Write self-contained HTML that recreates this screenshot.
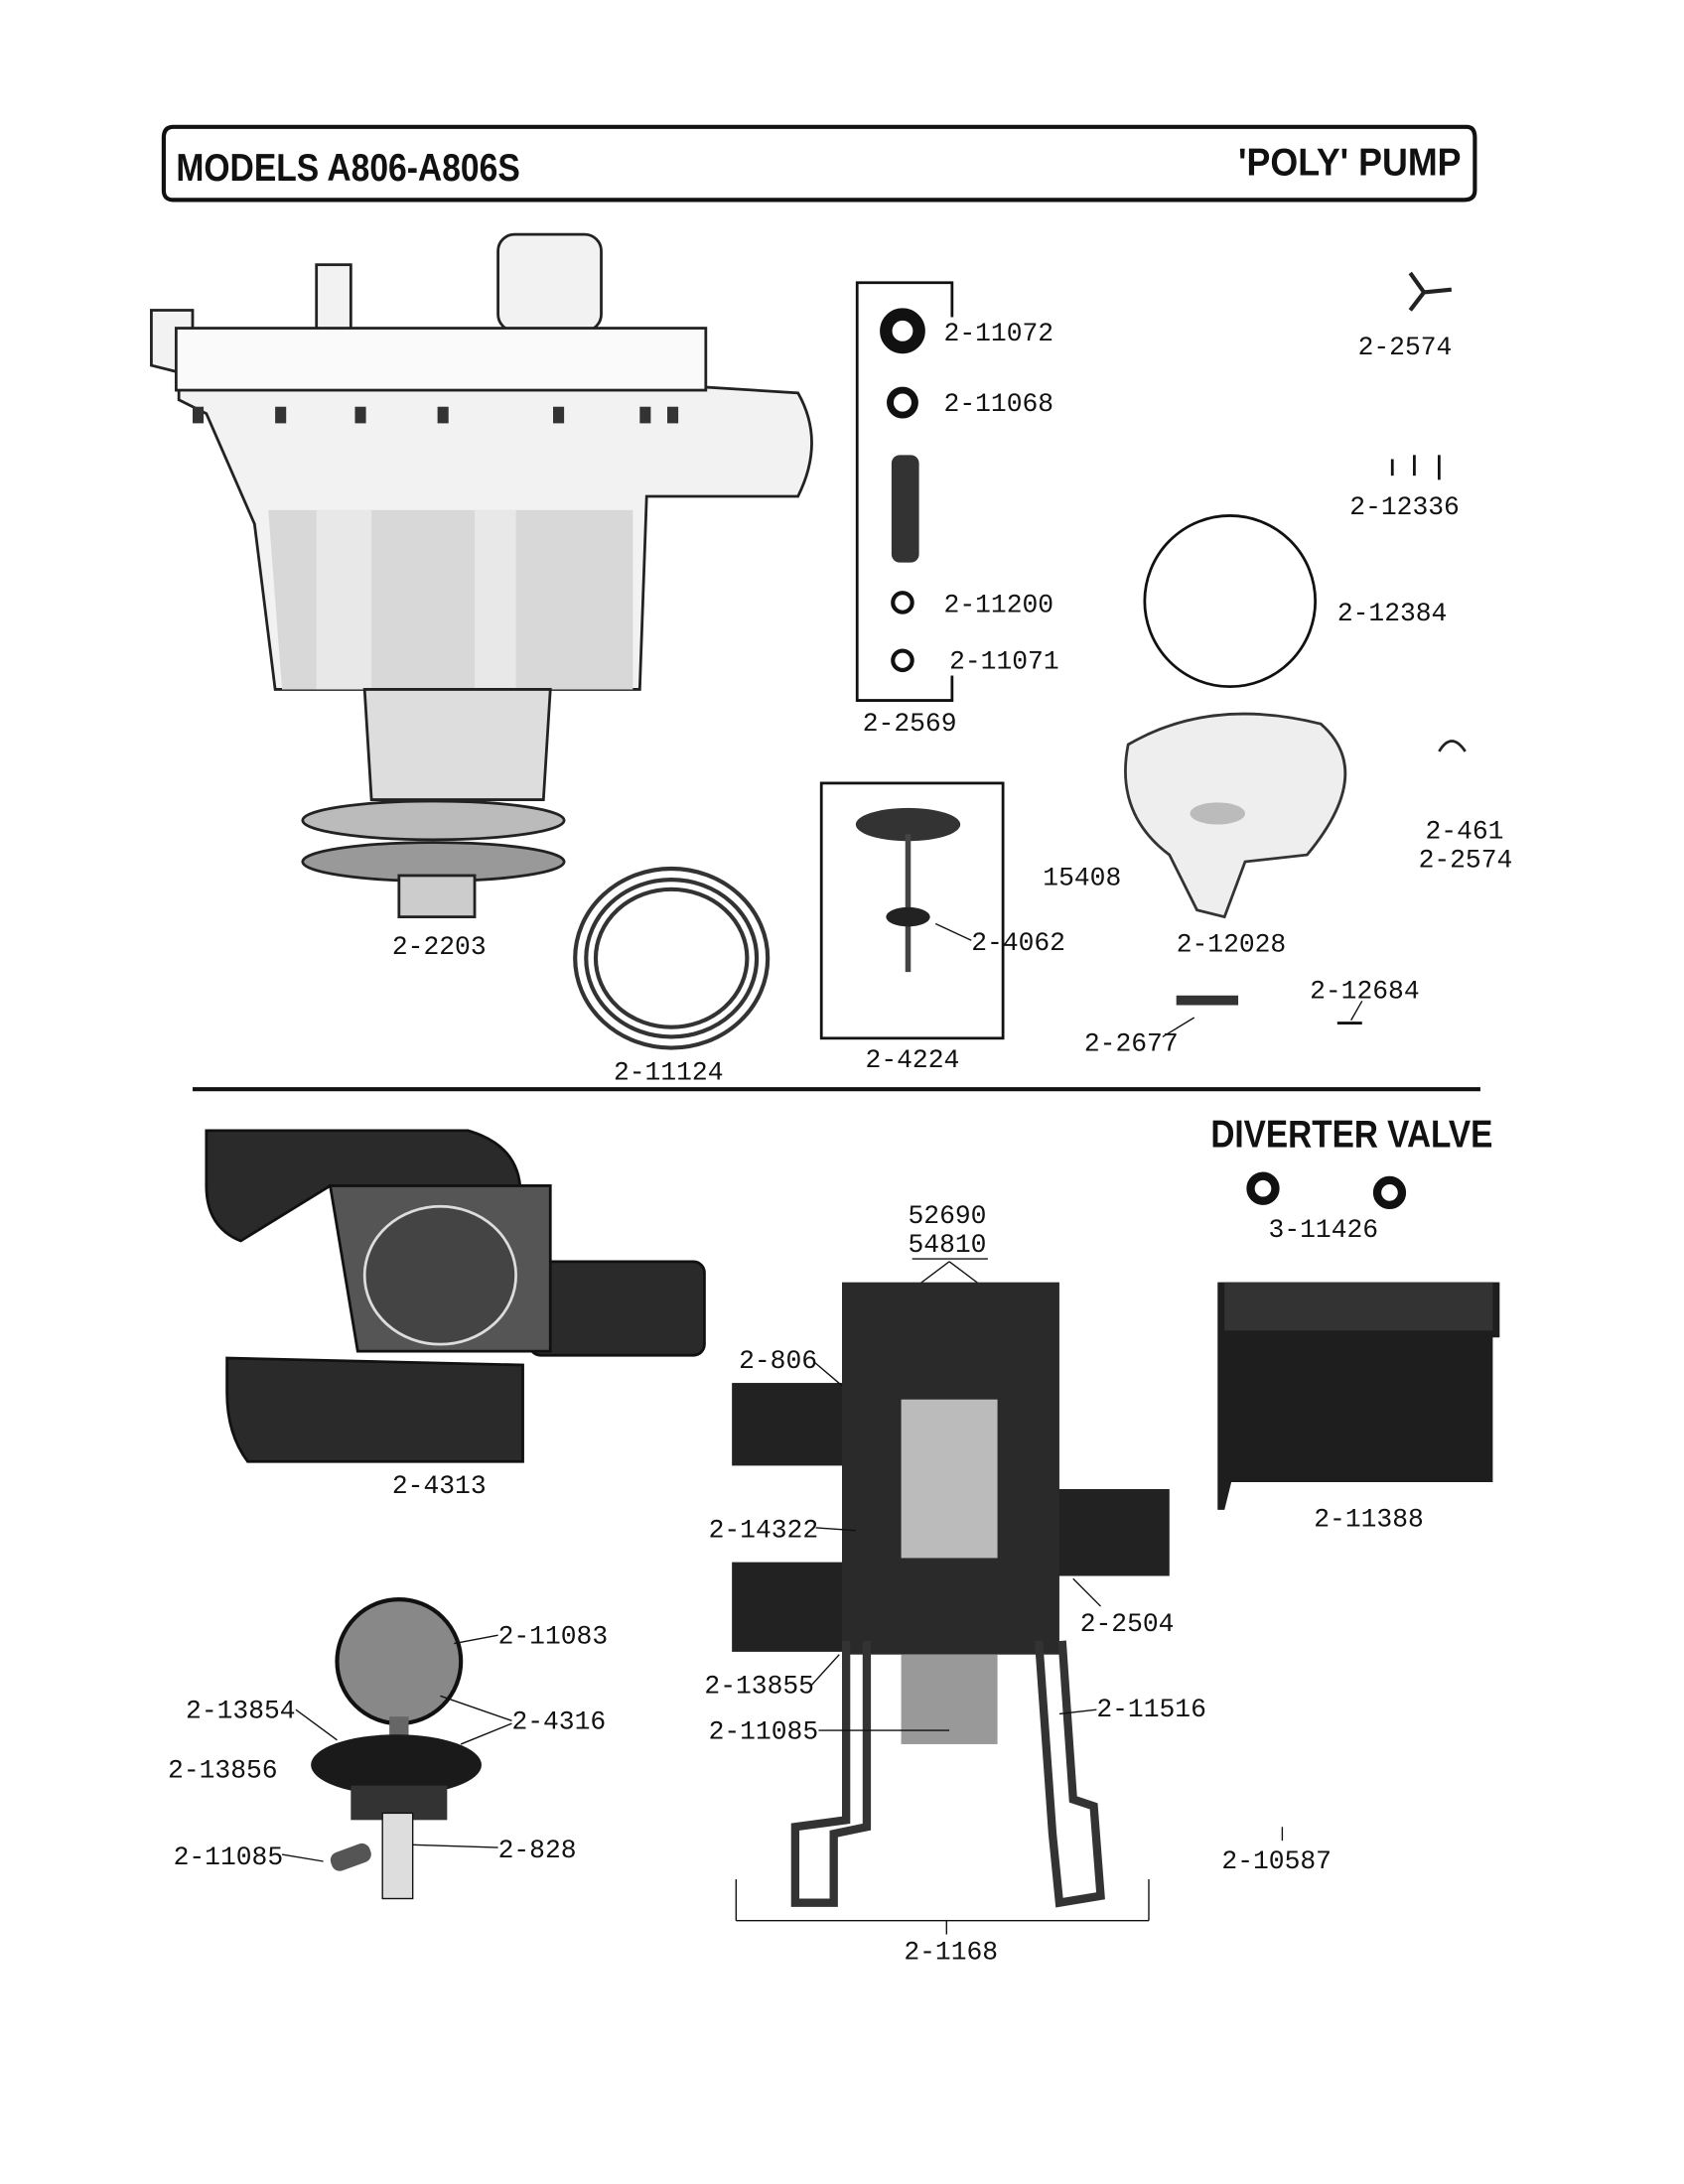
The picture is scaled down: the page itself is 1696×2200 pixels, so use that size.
<!DOCTYPE html>
<html><head><meta charset="utf-8"><style>
html,body{margin:0;padding:0;background:#fff}
svg{display:block}
text{font-family:"Liberation Mono",monospace;font-size:19px;fill:#111}
.h{font-family:"Liberation Sans",sans-serif;font-weight:bold;font-size:28px;fill:#111}
</style></head><body>
<svg width="1696" height="2200" viewBox="0 0 1224 1584" preserveAspectRatio="none" xmlns="http://www.w3.org/2000/svg">
<rect width="1224" height="1584" fill="#fff"/>
<!-- header -->
<path d="M126 92 L1066 92 Q1072 92 1072 100 L1072 138 Q1072 145 1064 145 L126 145 Q119 145 119 138 L119 100 Q119 92 126 92Z" fill="none" stroke="#111" stroke-width="3"/>
<text class="h" x="128" y="131" textLength="250" lengthAdjust="spacingAndGlyphs">MODELS A806-A806S</text>
<text class="h" x="900" y="127" textLength="162" lengthAdjust="spacingAndGlyphs">'POLY' PUMP</text>
<!-- pump -->
<g stroke="#222" stroke-width="2" fill="#f2f2f2">
<rect x="362" y="170" width="75" height="70" rx="12"/>
<rect x="230" y="192" width="25" height="50"/>
<path d="M110 225 L140 225 L140 240 L500 240 L500 280 L580 285 Q600 320 580 360 L470 360 L465 500 L200 500 L185 380 L150 300 L130 290 L130 270 L110 265Z"/>
<rect x="128" y="238" width="385" height="45" fill="#fafafa"/>
<path d="M195 370 L460 370 L460 500 L205 500Z" fill="#d8d8d8" stroke="none"/>
<rect x="230" y="370" width="40" height="130" fill="#e8e8e8" stroke="none"/>
<rect x="345" y="370" width="30" height="130" fill="#e8e8e8" stroke="none"/>
<path d="M265 500 L400 500 L395 580 L270 580Z" fill="#ddd"/>
<ellipse cx="315" cy="595" rx="95" ry="14" fill="#bbb"/>
<ellipse cx="315" cy="625" rx="95" ry="14" fill="#999"/>
<rect x="290" y="635" width="55" height="30" fill="#ccc"/>
</g>
<g fill="#333"><rect x="140" y="295" width="8" height="12"/><rect x="200" y="295" width="8" height="12"/><rect x="258" y="295" width="8" height="12"/><rect x="318" y="295" width="8" height="12"/><rect x="402" y="295" width="8" height="12"/><rect x="465" y="295" width="8" height="12"/><rect x="485" y="295" width="8" height="12"/></g>
<text x="285" y="692">2-2203</text>
<!-- coil 2-11124 -->
<g fill="none" stroke="#333" stroke-width="3"><ellipse cx="488" cy="695" rx="70" ry="65"/><ellipse cx="488" cy="695" rx="62" ry="57"/><ellipse cx="488" cy="695" rx="55" ry="50"/></g>
<text x="446" y="783">2-11124</text>
<!-- 2-2569 box -->
<path d="M623 205 L692 205 L692 508 L623 508 Z" fill="none" stroke="#111" stroke-width="2"/>
<circle cx="656" cy="240" r="12" fill="none" stroke="#111" stroke-width="9"/>
<circle cx="656" cy="292" r="9" fill="none" stroke="#111" stroke-width="5"/>
<rect x="648" y="330" width="20" height="78" rx="6" fill="#333"/>
<circle cx="656" cy="437" r="7" fill="none" stroke="#111" stroke-width="3"/>
<circle cx="656" cy="479" r="7" fill="none" stroke="#111" stroke-width="3"/>
<rect x="684" y="230" width="20" height="260" fill="#fff"/>
<text x="686" y="247">2-11072</text><text x="686" y="298">2-11068</text><text x="686" y="444">2-11200</text><text x="690" y="485">2-11071</text>
<text x="627" y="530">2-2569</text>
<!-- 2-4224 box -->
<rect x="597" y="568" width="132" height="185" fill="none" stroke="#111" stroke-width="2"/>
<ellipse cx="660" cy="598" rx="38" ry="12" fill="#333"/>
<line x1="660" y1="605" x2="660" y2="705" stroke="#444" stroke-width="4"/>
<ellipse cx="660" cy="665" rx="16" ry="7" fill="#222"/>
<line x1="680" y1="670" x2="706" y2="682" stroke="#111"/>
<text x="706" y="689">2-4062</text>
<text x="629" y="774">2-4224</text>
<!-- right upper -->
<path d="M1025 198 L1035 212 L1055 210 M1035 212 L1025 225" stroke="#222" stroke-width="3" fill="none"/>
<text x="987" y="257">2-2574</text>
<g stroke="#111" stroke-width="2"><line x1="1012" y1="333" x2="1012" y2="345"/><line x1="1028" y1="330" x2="1028" y2="345"/><line x1="1046" y1="330" x2="1046" y2="348"/></g>
<text x="981" y="373">2-12336</text>
<circle cx="894" cy="436" r="62" fill="none" stroke="#111" stroke-width="2"/>
<text x="972" y="450">2-12384</text>
<path d="M820 540 Q880 505 960 525 Q1000 560 950 620 L905 625 L890 665 L870 660 L850 620 Q810 590 820 540Z" fill="#eee" stroke="#333" stroke-width="2"/>
<ellipse cx="885" cy="590" rx="20" ry="8" fill="#bbb"/>
<text x="855" y="690">2-12028</text>
<text x="758" y="642">15408</text>
<path d="M1046 545 Q1055 530 1065 545" fill="none" stroke="#222" stroke-width="2"/>
<text x="1036" y="608">2-461</text><text x="1031" y="629">2-2574</text>
<rect x="855" y="722" width="45" height="7" fill="#333"/>
<line x1="845" y1="752" x2="868" y2="738" stroke="#111"/>
<text x="788" y="762">2-2677</text>
<text x="952" y="724">2-12684</text>
<line x1="972" y1="742" x2="990" y2="742" stroke="#111" stroke-width="2"/>
<line x1="982" y1="740" x2="990" y2="726" stroke="#111"/>
<!-- separator -->
<line x1="140" y1="790" x2="1076" y2="790" stroke="#111" stroke-width="3"/>
<text class="h" x="880" y="832" textLength="205" lengthAdjust="spacingAndGlyphs">DIVERTER VALVE</text>
<!-- 2-4313 -->
<g fill="#2a2a2a" stroke="#111" stroke-width="2">
<path d="M150 820 L340 820 Q375 830 378 860 L240 860 L175 900 Q150 890 150 860Z"/>
<path d="M165 985 L380 990 L380 1060 L180 1060 Q165 1040 165 1010Z"/>
<rect x="385" y="915" width="127" height="68" rx="8"/>
<path d="M240 860 L400 860 L400 980 L260 980 Z" fill="#555"/>
<ellipse cx="320" cy="925" rx="55" ry="50" fill="#444" stroke="#ddd"/>
</g>
<text x="285" y="1083">2-4313</text>
<!-- center valve -->
<text x="660" y="887">52690</text><text x="660" y="908">54810</text>
<line x1="663" y1="913" x2="718" y2="913" stroke="#111"/>
<path d="M690 915 L650 945 M690 915 L730 945" stroke="#111"/>
<rect x="532" y="1003" width="95" height="60" fill="#222"/>
<rect x="532" y="1133" width="95" height="65" fill="#222"/>
<rect x="765" y="1080" width="85" height="63" fill="#222"/>
<rect x="612" y="930" width="158" height="270" fill="#2a2a2a"/>
<rect x="655" y="1015" width="70" height="115" fill="#bbb"/>
<rect x="655" y="1200" width="70" height="65" fill="#999"/>
<g stroke="#333" stroke-width="6" fill="none"><path d="M615 1190 L615 1320 L578 1325 L578 1380 L606 1380 L606 1330 L630 1325 L630 1190"/><path d="M755 1190 L765 1330 L770 1380 L800 1375 L795 1310 L780 1305 L772 1190"/></g>
<line x1="535" y1="1363" x2="535" y2="1393" stroke="#111"/><line x1="835" y1="1363" x2="835" y2="1393" stroke="#111"/><line x1="535" y1="1393" x2="835" y2="1393" stroke="#111"/><line x1="688" y1="1393" x2="688" y2="1403" stroke="#111"/>
<text x="657" y="1421">2-1168</text>
<text x="537" y="992">2-806</text><line x1="592" y1="988" x2="612" y2="1005" stroke="#111"/>
<text x="515" y="1115">2-14322</text><line x1="593" y1="1108" x2="622" y2="1110" stroke="#111"/>
<text x="785" y="1183">2-2504</text><line x1="800" y1="1165" x2="780" y2="1145" stroke="#111"/>
<text x="512" y="1228">2-13855</text><line x1="590" y1="1222" x2="610" y2="1200" stroke="#111"/>
<text x="515" y="1261">2-11085</text><line x1="595" y1="1255" x2="690" y2="1255" stroke="#111"/>
<text x="797" y="1245">2-11516</text><line x1="797" y1="1240" x2="770" y2="1243" stroke="#111"/>
<!-- bottom left -->
<circle cx="290" cy="1205" r="45" fill="#888" stroke="#111" stroke-width="3"/>
<rect x="283" y="1245" width="14" height="25" fill="#666"/>
<ellipse cx="288" cy="1280" rx="62" ry="22" fill="#1a1a1a"/>
<rect x="255" y="1295" width="70" height="25" fill="#333"/>
<rect x="278" y="1315" width="22" height="62" fill="#ddd" stroke="#111"/>
<rect x="240" y="1340" width="30" height="14" rx="6" fill="#555" transform="rotate(-20 255 1347)"/>
<text x="362" y="1192">2-11083</text><line x1="362" y1="1186" x2="330" y2="1192" stroke="#111"/>
<text x="372" y="1254">2-4316</text><line x1="372" y1="1248" x2="320" y2="1230" stroke="#111"/><line x1="372" y1="1250" x2="335" y2="1265" stroke="#111"/>
<text x="135" y="1246">2-13854</text><line x1="215" y1="1240" x2="245" y2="1262" stroke="#111"/>
<text x="122" y="1289">2-13856</text>
<text x="126" y="1352">2-11085</text><line x1="205" y1="1345" x2="235" y2="1350" stroke="#111"/>
<text x="362" y="1347">2-828</text><line x1="362" y1="1340" x2="300" y2="1338" stroke="#111"/>
<!-- right lower -->
<circle cx="918" cy="862" r="9" fill="none" stroke="#111" stroke-width="6"/>
<circle cx="1010" cy="865" r="9" fill="none" stroke="#111" stroke-width="6"/>
<text x="922" y="897">3-11426</text>
<path d="M885 930 L1090 930 L1090 970 L1085 970 L1085 1075 L895 1075 L890 1095 L885 1095Z" fill="#1e1e1e"/>
<rect x="890" y="930" width="195" height="35" fill="#333"/>
<text x="955" y="1107">2-11388</text>
<text x="888" y="1355">2-10587</text>
<line x1="932" y1="1325" x2="932" y2="1335" stroke="#111"/>
</svg>
</body></html>
